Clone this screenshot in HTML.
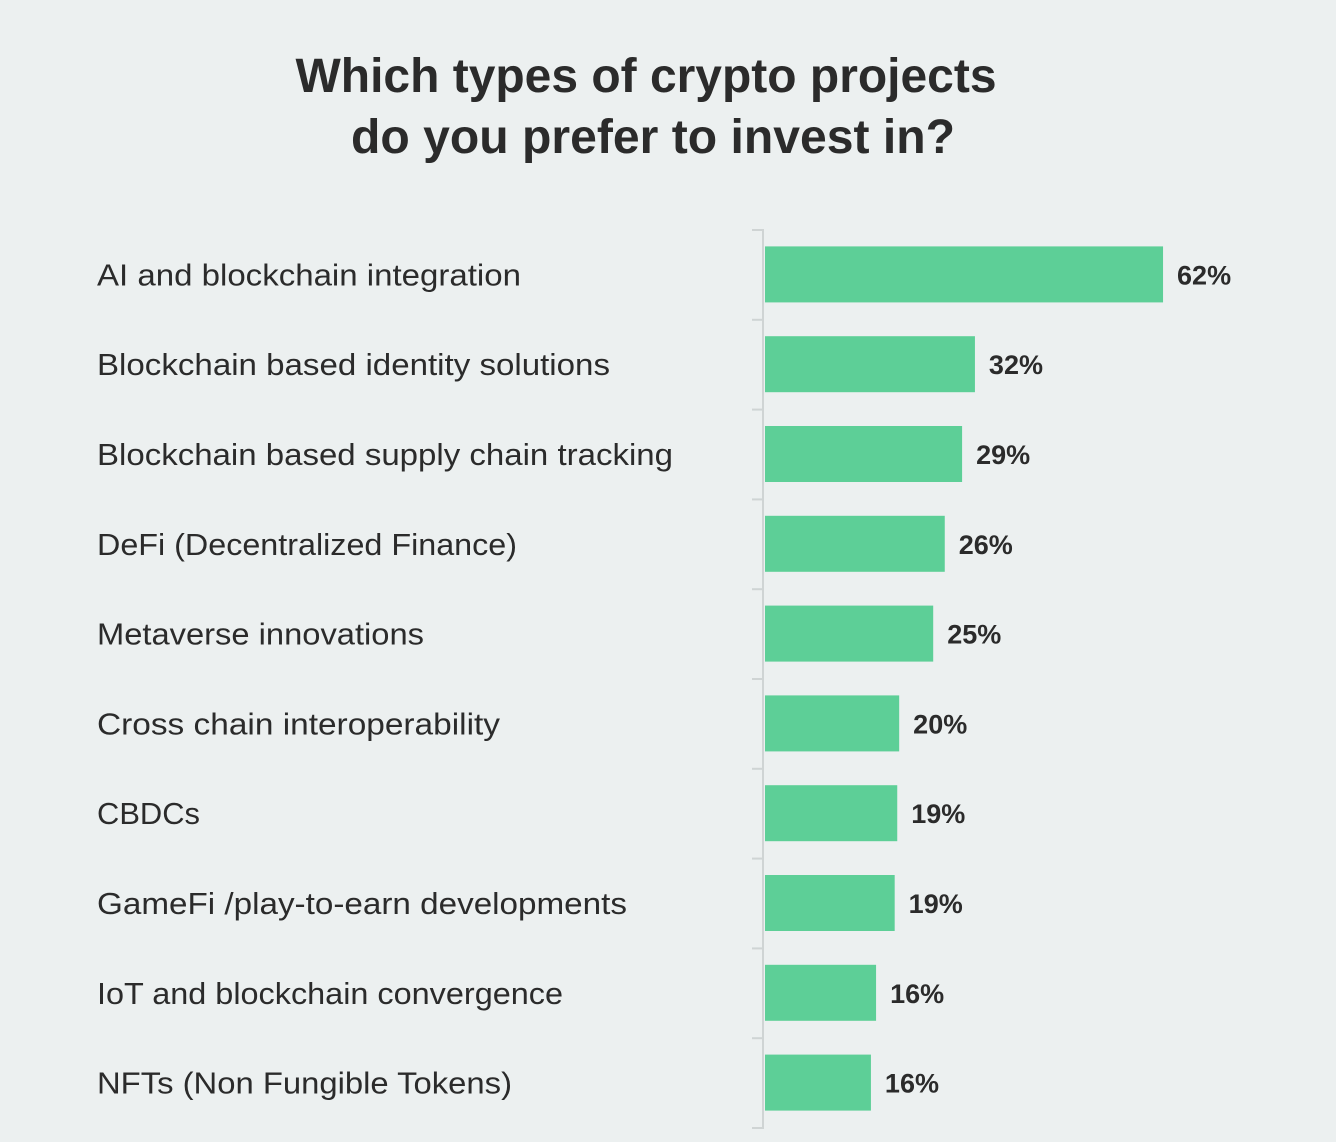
<!DOCTYPE html>
<html><head><meta charset="utf-8"><style>
html,body{margin:0;padding:0;background:#ecf0f0;}
svg{display:block;font-family:"Liberation Sans",sans-serif;}
</style></head><body>
<svg id="chart" width="1336" height="1142" viewBox="0 0 1336 1142">
<rect width="1336" height="1142" fill="#ecf0f0"/>
<text x="646" y="92" text-anchor="middle" font-size="48" font-weight="bold" fill="#2b2b2b" textLength="701" lengthAdjust="spacingAndGlyphs">Which types of crypto projects</text>
<text x="653" y="153" text-anchor="middle" font-size="48" font-weight="bold" fill="#2b2b2b" textLength="604" lengthAdjust="spacingAndGlyphs">do you prefer to invest in?</text>
<g id="plot"></g>
</svg>
<script>
const categories = ["AI and blockchain integration","Blockchain based identity solutions","Blockchain based supply chain tracking","DeFi (Decentralized Finance)","Metaverse innovations","Cross chain interoperability","CBDCs","GameFi /play-to-earn developments","IoT and blockchain convergence","NFTs (Non Fungible Tokens)"];
const values = [62, 32.7, 30.7, 28, 26.2, 20.9, 20.6, 20.2, 17.3, 16.5];
const valueLabels = ["62%","32%","29%","26%","25%","20%","19%","19%","16%","16%"];
const labelWidths = [424, 513, 576, 420, 327, 403, 103, 530, 466, 415];

const NS = "http://www.w3.org/2000/svg";
const plotG = document.getElementById("plot");
const x0 = 765, pxPer = 6.42, plotTop = 230, step = 89.8, barH = 56;
const xScale = v => v * pxPer;
const yBand = i => plotTop + i * step;
function mk(tag, attrs){ const e=document.createElementNS(NS,tag); for(const k in attrs) e.setAttribute(k,attrs[k]); plotG.appendChild(e); return e; }

const axis = mk("line",{x1:763,y1:plotTop,x2:763,y2:plotTop+categories.length*step,stroke:"#cfd4d4","stroke-width":2});


for(let i=0;i<=categories.length;i++){
  const t = mk("line",{x1:752,y1:yBand(i),x2:764,y2:yBand(i),stroke:"#cfd4d4","stroke-width":2});
  
  
}
categories.forEach((c,i)=>{
  const cy = yBand(i) + step/2 - 0.5;
  const lab = mk("text",{x:97,y:cy+11,"font-size":31,fill:"#2b2b2b",textLength:labelWidths[i],lengthAdjust:"spacingAndGlyphs"});
  lab.textContent = c;
  
  
  const w = xScale(values[i]);
  const b = mk("rect",{x:x0,y:cy-barH/2,width:w,height:barH,fill:"#5dcf97"});
  
  
  const v = mk("text",{x:x0+w+14,y:cy+10,"font-size":27,"font-weight":"bold",fill:"#2b2b2b"});
  v.textContent = valueLabels[i];
  
  
});
</script>
</body></html>
